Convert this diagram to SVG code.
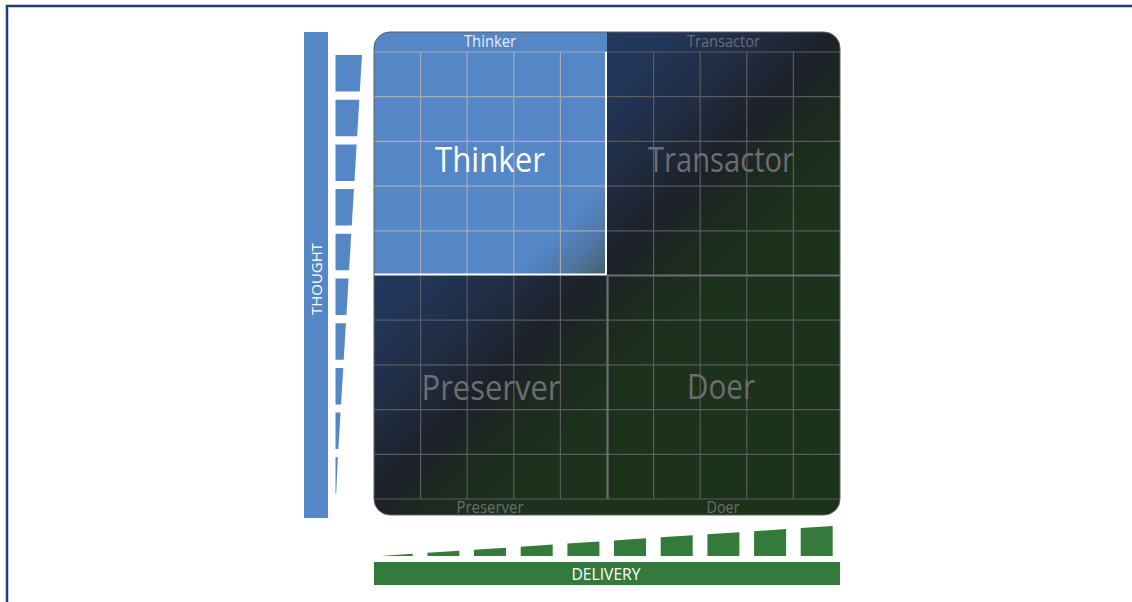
<svg xmlns="http://www.w3.org/2000/svg" width="1132" height="602" viewBox="0 0 1132 602">
<defs>
<style>
.lbl{font-family:"Open Sans","DejaVu Sans",sans-serif;text-anchor:middle}
.big{font-size:34px}
.sm{font-size:15.5px}
.grey{fill:#6e6c72}
.gl-dark{stroke:#5a5a5f;stroke-width:1.2;fill:none}
.gl-light{stroke:#a6a9b0;stroke-width:1.2;fill:none}
.blue{fill:#5586c6}
.green{fill:#347b3b}
</style>
<linearGradient id="bg" gradientUnits="userSpaceOnUse" x1="374" y1="32" x2="848.5" y2="506.5">
<stop offset="0" stop-color="#243d64"/>
<stop offset="0.3" stop-color="#22375b"/>
<stop offset="0.42" stop-color="#202b40"/>
<stop offset="0.49" stop-color="#1d2128"/>
<stop offset="0.56" stop-color="#1c2a1f"/>
<stop offset="0.63" stop-color="#1c321c"/>
<stop offset="1" stop-color="#1c331b"/>
</linearGradient>
<linearGradient id="thinkFade" gradientUnits="userSpaceOnUse" x1="561" y1="229" x2="607" y2="275">
<stop offset="0" stop-color="#5586c6"/>
<stop offset="0.5" stop-color="#5076a3"/>
<stop offset="1" stop-color="#46606b"/>
</linearGradient>
<clipPath id="boardClip">
<rect x="374" y="32" width="466" height="483" rx="16" ry="16"/>
</clipPath>
</defs>

<g id="frame">
<path d="M7 602 V6 H1132" fill="none" stroke="#1b3f6e" stroke-width="2.5"/>
</g>

<g id="thought-axis">
<rect class="blue" x="304" y="32" width="24" height="486"/>
<text class="lbl" transform="translate(321.5,279) rotate(-90)" font-size="15" fill="#ffffff" textLength="72" lengthAdjust="spacingAndGlyphs">THOUGHT</text>
<polygon class="blue" points="335.5,55 362,55 359.81,91.5 335.5,91.5"/>
<polygon class="blue" points="335.5,99.7 359.32,99.7 357.13,136.2 335.5,136.2"/>
<polygon class="blue" points="335.5,144.4 356.64,144.4 354.45,180.9 335.5,180.9"/>
<polygon class="blue" points="335.5,189.1 353.95,189.1 351.76,225.6 335.5,225.6"/>
<polygon class="blue" points="335.5,233.8 351.27,233.8 349.08,270.3 335.5,270.3"/>
<polygon class="blue" points="335.5,278.5 348.59,278.5 346.4,315 335.5,315"/>
<polygon class="blue" points="335.5,323.2 345.91,323.2 343.72,359.7 335.5,359.7"/>
<polygon class="blue" points="335.5,367.9 343.23,367.9 341.04,404.4 335.5,404.4"/>
<polygon class="blue" points="335.5,412.6 340.54,412.6 338.35,449.1 335.5,449.1"/>
<polygon class="blue" points="335.5,457.3 337.86,457.3 336.2,493.8 335.5,493.8"/>
</g>

<g id="delivery-axis">
<rect class="green" x="374" y="562" width="466" height="23"/>
<text class="lbl" x="606" y="580" font-size="16" fill="#ffffff" textLength="69" lengthAdjust="spacingAndGlyphs">DELIVERY</text>
<polygon class="green" points="380.7,556 380.7,555.95 412.7,553.83 412.7,556"/>
<polygon class="green" points="427.4,556 427.4,552.85 459.4,550.73 459.4,556"/>
<polygon class="green" points="474,556 474,549.76 506,547.64 506,556"/>
<polygon class="green" points="520.7,556 520.7,546.66 552.7,544.54 552.7,556"/>
<polygon class="green" points="567.4,556 567.4,543.56 599.4,541.44 599.4,556"/>
<polygon class="green" points="614,556 614,540.47 646,538.35 646,556"/>
<polygon class="green" points="660.7,556 660.7,537.37 692.7,535.25 692.7,556"/>
<polygon class="green" points="707.4,556 707.4,534.27 739.4,532.15 739.4,556"/>
<polygon class="green" points="754.1,556 754.1,531.18 786.1,529.05 786.1,556"/>
<polygon class="green" points="800.7,556 800.7,528.08 832.7,525.95 832.7,556"/>
</g>

<g id="board" clip-path="url(#boardClip)">
<rect x="374" y="32" width="466" height="483" fill="url(#bg)"/>
<g id="grid-dark">
<path class="gl-dark" d="M374 52 H840 M374 499 H840 M374 320.2 H840 M374 364.9 H840 M374 409.6 H840 M374 454.3 H840 M607 96.7 H840 M607 141.4 H840 M607 186.1 H840 M607 230.8 H840"/>
<path class="gl-dark" d="M420.6 275 V499 M467.2 275 V499 M513.8 275 V499 M560.4 275 V499 M653.6 52 V499 M700.2 52 V499 M746.8 52 V499 M793.4 52 V499"/>
</g>
<g id="quadrant-thinker">
<rect x="374" y="32" width="233" height="243" fill="url(#thinkFade)"/>
<path class="gl-light" d="M374 52 H607 M374 96.7 H607 M374 141.4 H607 M374 186.1 H607 M374 230.8 H607 M420.6 52 V275 M467.2 52 V275 M513.8 52 V275 M560.4 52 V275"/>
<path d="M606 52 V275 M374 274.5 H607" fill="none" stroke="#ffffff" stroke-width="2"/>
<text class="lbl big" x="490" y="172" fill="#ffffff" textLength="110" lengthAdjust="spacingAndGlyphs">Thinker</text>
<text class="lbl sm" x="490" y="47" fill="#e8eef6" textLength="52" lengthAdjust="spacingAndGlyphs">Thinker</text>
</g>
<g id="quadrant-transactor">
<text class="lbl big grey" x="721" y="172" textLength="146" lengthAdjust="spacingAndGlyphs">Transactor</text>
<text class="lbl sm grey" x="723.5" y="47" textLength="73" lengthAdjust="spacingAndGlyphs">Transactor</text>
</g>
<g id="quadrant-preserver">
<text class="lbl big grey" x="491" y="400" textLength="139" lengthAdjust="spacingAndGlyphs">Preserver</text>
<text class="lbl sm grey" x="490" y="513" textLength="67" lengthAdjust="spacingAndGlyphs">Preserver</text>
</g>
<g id="quadrant-doer">
<text class="lbl big grey" x="721" y="399" textLength="68" lengthAdjust="spacingAndGlyphs">Doer</text>
<text class="lbl sm grey" x="723" y="513" textLength="33" lengthAdjust="spacingAndGlyphs">Doer</text>
</g>
<path d="M607 275.5 H840 M607.5 275 V499" fill="none" stroke="#6d6d72" stroke-width="2.2"/>
</g>
<rect x="374" y="32" width="466" height="483" rx="16" ry="16" fill="none" stroke="#606065" stroke-width="1"/>
</svg>
